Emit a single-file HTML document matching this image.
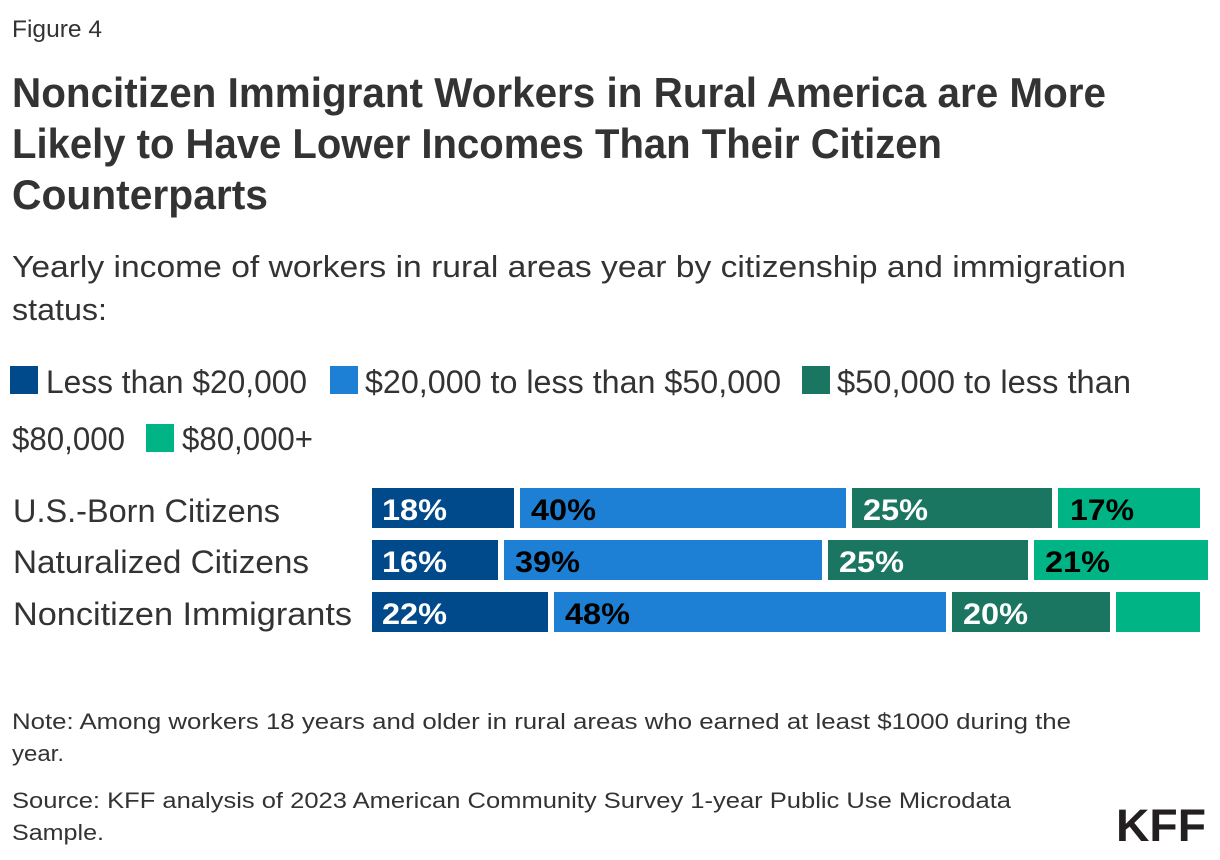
<!DOCTYPE html>
<html>
<head>
<meta charset="utf-8">
<style>
  html, body { margin: 0; padding: 0; background: #ffffff; }
  svg { display: block; }
  text { font-family: "Liberation Sans", "DejaVu Sans", sans-serif; }
</style>
</head>
<body>
<svg width="1220" height="860" viewBox="0 0 1220 860" xmlns="http://www.w3.org/2000/svg">
  <rect x="0" y="0" width="1220" height="860" fill="#ffffff"/>

  <!-- Figure label -->
  <text x="12" y="37" font-size="24" fill="#333333" textLength="90" lengthAdjust="spacingAndGlyphs">Figure 4</text>

  <!-- Title -->
  <g font-size="42" font-weight="bold" fill="#333333">
    <text x="12" y="107" textLength="1094" lengthAdjust="spacingAndGlyphs">Noncitizen Immigrant Workers in Rural America are More</text>
    <text x="12" y="158" textLength="930" lengthAdjust="spacingAndGlyphs">Likely to Have Lower Incomes Than Their Citizen</text>
    <text x="12" y="209" textLength="256" lengthAdjust="spacingAndGlyphs">Counterparts</text>
  </g>

  <!-- Subtitle -->
  <g font-size="31" fill="#333333">
    <text x="12" y="277" textLength="1114" lengthAdjust="spacingAndGlyphs">Yearly income of workers in rural areas year by citizenship and immigration</text>
    <text x="12" y="320" textLength="95" lengthAdjust="spacingAndGlyphs">status:</text>
  </g>

  <!-- Legend -->
  <g font-size="32" fill="#333333">
    <rect x="10" y="366" width="28" height="28" fill="#00498A"/>
    <text x="46" y="393" textLength="261" lengthAdjust="spacingAndGlyphs">Less than $20,000</text>
    <rect x="330" y="366" width="28" height="28" fill="#1E80D5"/>
    <text x="365" y="393" textLength="416" lengthAdjust="spacingAndGlyphs">$20,000 to less than $50,000</text>
    <rect x="802" y="366" width="28" height="28" fill="#1B7661"/>
    <text x="837" y="393" textLength="294" lengthAdjust="spacingAndGlyphs">$50,000 to less than</text>
    <text x="12" y="450" textLength="113" lengthAdjust="spacingAndGlyphs">$80,000</text>
    <rect x="146" y="424" width="28" height="28" fill="#00B486"/>
    <text x="182" y="450" textLength="131" lengthAdjust="spacingAndGlyphs">$80,000+</text>
  </g>

  <!-- Row labels -->
  <g font-size="32" fill="#333333">
    <text x="13" y="522" textLength="267" lengthAdjust="spacingAndGlyphs">U.S.-Born Citizens</text>
    <text x="13" y="573" textLength="296" lengthAdjust="spacingAndGlyphs">Naturalized Citizens</text>
    <text x="13" y="625" textLength="339" lengthAdjust="spacingAndGlyphs">Noncitizen Immigrants</text>
  </g>

  <!-- Bars row 1 -->
  <rect x="372" y="488" width="142" height="40" fill="#00498A"/>
  <rect x="520" y="488" width="326" height="40" fill="#1E80D5"/>
  <rect x="852" y="488" width="200" height="40" fill="#1B7661"/>
  <rect x="1058" y="488" width="142" height="40" fill="#00B486"/>

  <!-- Bars row 2 -->
  <rect x="372" y="540" width="126" height="40" fill="#00498A"/>
  <rect x="504" y="540" width="318" height="40" fill="#1E80D5"/>
  <rect x="828" y="540" width="200" height="40" fill="#1B7661"/>
  <rect x="1034" y="540" width="174" height="40" fill="#00B486"/>

  <!-- Bars row 3 -->
  <rect x="372" y="592" width="176" height="40" fill="#00498A"/>
  <rect x="554" y="592" width="392" height="40" fill="#1E80D5"/>
  <rect x="952" y="592" width="158" height="40" fill="#1B7661"/>
  <rect x="1116" y="592" width="84" height="40" fill="#00B486"/>

  <!-- Bar labels -->
  <g font-size="30" font-weight="bold">
    <text x="382" y="520" fill="#ffffff" textLength="65" lengthAdjust="spacingAndGlyphs">18%</text>
    <text x="531" y="520" fill="#000000" textLength="65" lengthAdjust="spacingAndGlyphs">40%</text>
    <text x="863" y="520" fill="#ffffff" textLength="65" lengthAdjust="spacingAndGlyphs">25%</text>
    <text x="1070" y="520" fill="#000000" textLength="64" lengthAdjust="spacingAndGlyphs">17%</text>

    <text x="382" y="572" fill="#ffffff" textLength="65" lengthAdjust="spacingAndGlyphs">16%</text>
    <text x="515" y="572" fill="#000000" textLength="65" lengthAdjust="spacingAndGlyphs">39%</text>
    <text x="839" y="572" fill="#ffffff" textLength="65" lengthAdjust="spacingAndGlyphs">25%</text>
    <text x="1045" y="572" fill="#000000" textLength="65" lengthAdjust="spacingAndGlyphs">21%</text>

    <text x="382" y="624" fill="#ffffff" textLength="65" lengthAdjust="spacingAndGlyphs">22%</text>
    <text x="565" y="624" fill="#000000" textLength="65" lengthAdjust="spacingAndGlyphs">48%</text>
    <text x="963" y="624" fill="#ffffff" textLength="65" lengthAdjust="spacingAndGlyphs">20%</text>
  </g>

  <!-- Notes -->
  <g font-size="22" fill="#333333">
    <text x="12" y="729" textLength="1059" lengthAdjust="spacingAndGlyphs">Note: Among workers 18 years and older in rural areas who earned at least $1000 during the</text>
    <text x="12" y="761" textLength="52" lengthAdjust="spacingAndGlyphs">year.</text>
    <text x="12" y="808" textLength="999" lengthAdjust="spacingAndGlyphs">Source: KFF analysis of 2023 American Community Survey 1-year Public Use Microdata</text>
    <text x="12" y="840" textLength="92" lengthAdjust="spacingAndGlyphs">Sample.</text>
  </g>

  <!-- KFF logo -->
  <text x="1116" y="841" font-size="45" font-weight="bold" fill="#231f20" textLength="90" lengthAdjust="spacingAndGlyphs">KFF</text>
</svg>
</body>
</html>
